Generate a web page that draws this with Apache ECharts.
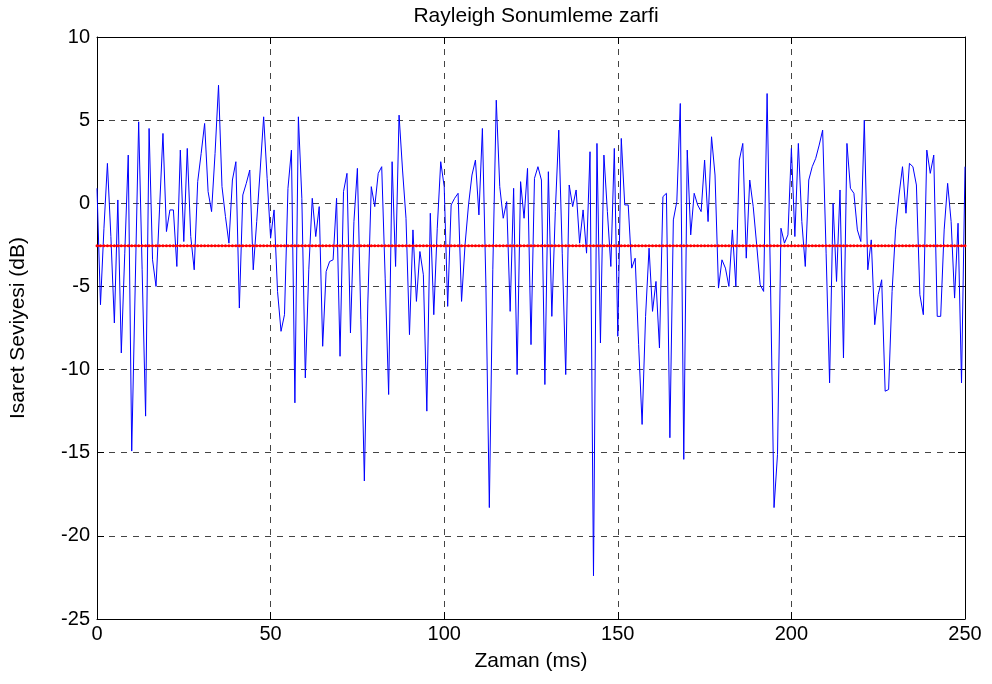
<!DOCTYPE html>
<html>
<head>
<meta charset="utf-8">
<script src="https://cdn.jsdelivr.net/npm/echarts@6/dist/echarts.min.js"></script>
<style>
html,body{margin:0;padding:0;background:#fff;}
#chart{width:992px;height:684px;}
</style>
</head>
<body>
<div id="chart"></div>
<script>
// Signal level (dB) at each ms, 0..250
const level0to49 = [0.9,-6.1,-1.5,2.4,-2.0,-7.2,0.2,-9.0,-3.0,2.9,-14.9,-5.0,4.9,-4.0,-12.8,4.5,-3.4,-5.0,-0.4,4.2,-1.7,-0.4,-0.4,-3.8,3.2,-2.3,3.3,-2.0,-4.0,1.3,3.0,4.8,0.7,-0.5,3.0,7.1,1.0,-0.8,-2.4,1.4,2.5,-6.3,0.5,1.2,2.0,-4.0,-1.1,2.0,5.2,1.5];
const level50to99 = [-2.1,-0.4,-5.3,-7.7,-6.7,0.9,3.2,-12.0,5.2,0.3,-10.5,-4.0,0.3,-2.0,-0.2,-8.6,-4.1,-3.5,-3.4,0.3,-9.2,0.7,1.8,-7.8,-1.1,2.1,-7.0,-16.7,-6.0,1.0,-0.2,1.8,2.2,-4.5,-11.5,2.5,-3.8,5.3,2.0,-0.9,-7.9,-1.6,-5.9,-2.9,-4.3,-12.5,-0.6,-6.7,-1.5,2.5];
const level100to149 = [1.0,-6.2,-0.1,0.3,0.6,-5.9,-2.5,-0.1,1.7,2.6,-0.7,4.5,-4.8,-18.3,-4.0,6.2,1.0,-0.9,0.1,-6.5,0.9,-10.3,1.3,-0.9,2.1,-8.5,1.5,2.2,1.4,-10.9,1.9,-6.8,-0.5,4.4,-3.0,-10.3,1.1,-0.2,0.8,-2.4,-0.4,-3.0,3.1,-22.4,3.6,-8.4,2.9,-0.5,-3.8,3.3];
const level150to199 = [-8.0,3.9,-0.1,-0.1,-3.9,-3.3,-8.5,-13.3,-6.8,-2.7,-6.5,-4.7,-8.7,0.4,0.6,-14.1,-1.0,0.1,6.0,-15.4,3.2,-1.9,0.6,-0.1,-0.5,2.6,-1.1,4.0,1.7,-5.1,-3.4,-3.9,-5.0,-1.6,-5.0,2.6,3.6,-3.3,1.4,-0.2,-2.5,-4.9,-5.3,6.6,-5.0,-18.3,-15.1,-1.5,-2.4,-1.9];
const level200to250 = [3.3,-2.0,3.6,-1.1,-3.8,1.4,2.2,2.7,3.5,4.4,-3.0,-10.8,0.0,-4.7,0.8,-9.3,3.6,0.9,0.6,-1.6,-2.3,5.0,-4.0,-2.2,-7.3,-5.5,-4.6,-11.3,-11.2,-5.3,-1.6,0.5,2.2,-0.6,2.4,2.2,1.1,-5.5,-6.7,3.2,1.8,2.9,-6.8,-6.8,-1.6,1.2,-1.1,-5.7,-1.2,-10.8,2.2];
const meanLevel = -2.55;
const xTicks = [0, 50, 100, 150, 200, 250];
const yTicks = [-25, -20, -15, -10, -5, 0, 5, 10];

const levels = [].concat(level0to49, level50to99, level100to149, level150to199, level200to250);
const signalData = levels.map((v, i) => [i, v]);
const meanData = levels.map((v, i) => [i, meanLevel]);

const font = 'Liberation Sans, Arial, Helvetica, sans-serif';
const chart = echarts.init(document.getElementById('chart'), null, {renderer: 'canvas'});
const boxAxis = {show: true, onZero: false, lineStyle: {color: '#000', width: 1}};
const tick = {show: true, inside: true, length: 7, lineStyle: {color: '#000'}};
const xBase = {type: 'value', min: xTicks[0], max: xTicks[xTicks.length - 1], interval: 50};
const yBase = {type: 'value', min: yTicks[0], max: yTicks[yTicks.length - 1], interval: 5};
const grid = {show: true, lineStyle: {color: '#444', type: [6, 6], width: 1}};
chart.setOption({
  animation: false,
  backgroundColor: '#fff',
  title: {
    text: 'Rayleigh Sonumleme zarfi', left: 531, top: 1, textAlign: 'center',
    textStyle: {fontFamily: font, fontSize: 21, fontWeight: 'normal', color: '#000'}
  },
  grid: {left: 97, right: 27, top: 37, bottom: 65, containLabel: false},
  xAxis: [
    Object.assign({}, xBase, {
      position: 'bottom',
      name: 'Zaman (ms)', nameLocation: 'middle', nameGap: 32,
      nameTextStyle: {fontFamily: font, fontSize: 21, color: '#000'},
      axisLine: boxAxis, axisTick: tick,
      axisLabel: {fontFamily: font, fontSize: 20, color: '#000', margin: 5},
      splitLine: grid
    }),
    Object.assign({}, xBase, {
      position: 'top',
      axisLine: boxAxis, axisTick: tick,
      axisLabel: {show: false}, splitLine: {show: false}
    })
  ],
  yAxis: [
    Object.assign({}, yBase, {
      position: 'left',
      name: 'Isaret Seviyesi (dB)', nameLocation: 'middle', nameGap: 68, nameRotate: 90,
      nameTextStyle: {fontFamily: font, fontSize: 21, color: '#000'},
      axisLine: boxAxis, axisTick: tick,
      axisLabel: {fontFamily: font, fontSize: 20, color: '#000', margin: 7},
      splitLine: grid
    }),
    Object.assign({}, yBase, {
      position: 'right',
      axisLine: boxAxis, axisTick: tick,
      axisLabel: {show: false}, splitLine: {show: false}
    })
  ],
  series: [
    {
      type: 'line', xAxisIndex: 0, yAxisIndex: 0, data: signalData,
      showSymbol: false, symbol: 'none',
      lineStyle: {color: '#0000ff', width: 1}, z: 3
    },
    {
      type: 'line', xAxisIndex: 0, yAxisIndex: 0, data: meanData,
      symbol: 'circle', symbolSize: 3, showSymbol: true,
      itemStyle: {color: '#ff0000'},
      lineStyle: {color: '#ff0000', width: 1.5}, z: 4
    }
  ]
});
</script>
</body>
</html>
